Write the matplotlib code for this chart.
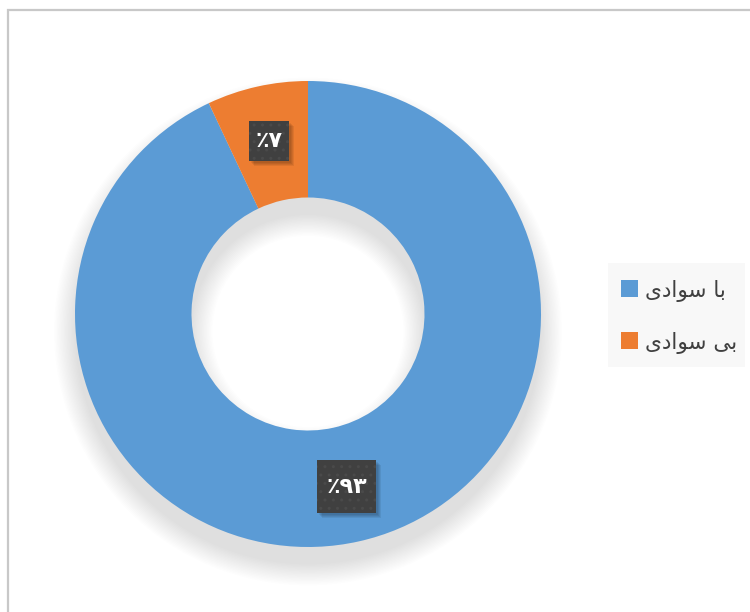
import matplotlib
matplotlib.use('Agg')
import matplotlib.pyplot as plt
import matplotlib.patches as mpatches
from matplotlib.lines import Line2D
from matplotlib import font_manager, ft2font
import numpy as np

# ---- data ----
categories = ["با سوادی", "بی سوادی"]
values = [93, 7]
colors = ["#5B9BD5", "#ED7D31"]

plt.rcParams['font.family'] = ['DejaVu Sans']

# ---- simple Persian shaping (matplotlib has no complex text layout) ----
_ft = ft2font.FT2Font(font_manager.findfont('DejaVu Sans'))
_has_fa_yeh = _ft.get_char_index(0xFBFD) != 0
FORMS = {
    'ب': ('\uFE8F', '\uFE90', '\uFE91', '\uFE92'),
    'ا': ('\uFE8D', '\uFE8E', None, None),
    'س': ('\uFEB1', '\uFEB2', '\uFEB3', '\uFEB4'),
    'و': ('\uFEED', '\uFEEE', None, None),
    'د': ('\uFEA9', '\uFEAA', None, None),
    'ی': (('\uFBFC', '\uFBFD', '\uFBFE', '\uFBFF') if _has_fa_yeh
          else ('\uFEEF', '\uFEF0', '\uFEF3', '\uFEF4')),
}


def shape(s):
    out = []
    for i, c in enumerate(s):
        if c not in FORMS:
            out.append(c)
            continue
        iso, fin, ini, med = FORMS[c]
        prev = s[i - 1] if i > 0 else None
        nxt = s[i + 1] if i < len(s) - 1 else None
        jp = prev in FORMS and FORMS[prev][2] is not None
        jn = nxt in FORMS and ini is not None
        if jp and jn:
            out.append(med)
        elif jp:
            out.append(fin)
        elif jn:
            out.append(ini)
        else:
            out.append(iso)
    return ''.join(reversed(out))


PDIG = '۰۱۲۳۴۵۶۷۸۹'


def fa_pct(v):
    return '٪' + ''.join(PDIG[int(d)] for d in str(v))


W, H = 750, 612
fig = plt.figure(figsize=(7.5, 6.12), dpi=100)
fig.patch.set_facecolor('white')

# chart frame (only left/top visible)
fig.add_artist(Line2D([7.5 / W, 7.5 / W, 1.02], [-0.02, 1 - 10 / H, 1 - 10 / H],
                      transform=fig.transFigure, color='#C8C8C8', lw=1.6,
                      solid_joinstyle='miter'))

R_PX = 233
cx, cy = 308, 314
ax = fig.add_axes([(cx - R_PX) / W, (H - cy - R_PX) / H, 2 * R_PX / W, 2 * R_PX / H])
ax.set_facecolor('none')

# soft shadow of the ring, offset downward
n = 16
for i in range(n):
    s = 0.09 * i / (n - 1)
    ax.add_patch(mpatches.Wedge((0, -0.075), 1.0 + s, 0, 360, width=0.5 + 2 * s,
                                facecolor='black', alpha=0.007, lw=0, clip_on=False))

wedges, _ = ax.pie(values, colors=colors, startangle=90, counterclock=False,
                   radius=1, wedgeprops=dict(width=0.5, linewidth=0))
ax.set_xlim(-1, 1)
ax.set_ylim(-1, 1)
ax.set_aspect('auto')
ax.axis('off')

# data labels in dark boxes
box_px = [(59, 53), (40, 40)]
for w, v, (bw, bh) in zip(wedges, values, box_px):
    ang = np.deg2rad((w.theta1 + w.theta2) / 2)
    r = 0.76
    x, y = r * np.cos(ang), r * np.sin(ang)
    bwd, bhd = bw / R_PX, bh / R_PX
    for k in range(4):
        sh = (2 + k) / R_PX
        ax.add_patch(mpatches.Rectangle((x - bwd / 2 + sh, y - bhd / 2 - sh), bwd, bhd,
                                        facecolor='black', alpha=0.07, lw=0, clip_on=False))
    ax.add_patch(mpatches.Rectangle((x - bwd / 2, y - bhd / 2), bwd, bhd,
                                    facecolor='#404040', edgecolor='#4A4A4A', hatch='..',
                                    lw=0, clip_on=False))
    ax.text(x, y, fa_pct(v), color='white', fontsize=16, fontweight='bold',
            ha='center', va='center', clip_on=False)

# legend
fig.add_artist(mpatches.Rectangle((608 / W, 1 - 367 / H), 137 / W, 104 / H,
                                  transform=fig.transFigure, facecolor='#F8F8F8', lw=0))
leg_y = [288.5, 340.5]
for lab, col, yy in zip(categories, colors, leg_y):
    fig.add_artist(mpatches.Rectangle((621 / W, 1 - (yy + 8.5) / H), 17 / W, 17 / H,
                                      transform=fig.transFigure, facecolor=col, lw=0))
    fig.text(645 / W, 1 - (yy + 2) / H, shape(lab), color='#404040', fontsize=15.5,
             ha='left', va='center')

fig.savefig('out.png', dpi=100, facecolor='white')
